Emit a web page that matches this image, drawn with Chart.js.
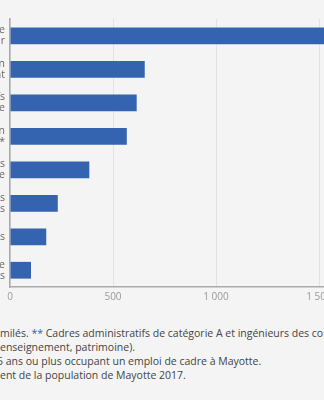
<!DOCTYPE html>
<html lang="fr">
<head>
<meta charset="utf-8">
<script src="https://cdn.jsdelivr.net/npm/chart.js@4/dist/chart.umd.min.js"></script>
<style>
    html, body {
        margin: 0;
        padding: 0;
        width: 324px;
        height: 400px;
        overflow: hidden;
        background: #f4f4f4;
        font-family: "Open Sans", sans-serif;
    }
    #chartBox {
        position: absolute;
        left: -190px;
        top: 0;
        width: 612px;
        height: 310px;
    }
    #notes {
        position: absolute;
        left: 0;
        top: 326px;
        width: 324px;
        font-size: 10.5px;
        line-height: 14px;
        color: #444;
    }
    .line {
        position: relative;
        white-space: nowrap;
    }
    .pre {
        position: absolute;
        right: 100%;
    }
    .star {
        color: #3563ae;
    }
</style>
</head>
<body>
<div id="chartBox"><canvas id="cadresChart"></canvas></div>
<div id="notes">
    <div class="line"><span class="pre">* Professions libérales et assi</span>milés. <span class="star">**</span> Cadres administratifs de catégorie A et ingénieurs des corps techniques de la fonction publique</div>
    <div class="line"><span class="pre">(santé, culture, </span>enseignement, patrimoine).</div>
    <div class="line" style="margin-left:-3px"><span class="pre">Champ : actifs de 1</span>5 ans ou plus occupant un emploi de cadre à Mayotte.</div>
    <div class="line"><span class="pre">Source : Insee, recensem</span>ent de la population de Mayotte 2017.</div>
</div>
<script>
// categories (labels cut by the left edge of the picture)
const categories = [
    ["Enseignants du secondaire", "et du supérieur"],
    ["Cadres de gestion", "et d'encadrement"],
    ["Cadres administratifs", "et commerciaux d'entreprise"],
    ["Cadres de la fonction", "publique **"],
    ["Ingénieurs et cadres techniques", "d'entreprise"],
    ["Chefs d'entreprises", "de 10 salariés ou plus"],
    "Professions libérales",
    ["Professions de la culture", "et des spectacles"]
];

// number of cadres
const values = [1650, 654, 615, 567, 385, 232, 176, 102];

const tickValues = [0, 500, 1000, 1500];
const axisMax = 2000;

const barColor = "#3464b0";

function formatNumber(v) {
    return String(v).replace(/\B(?=(\d{3})+(?!\d))/g, " ");
}

const ctx = document.getElementById("cadresChart").getContext("2d");

new Chart(ctx, {
    type: "bar",
    data: {
        labels: categories,
        datasets: [
            {
                data: values,
                backgroundColor: barColor,
                borderWidth: 0,
                barPercentage: 0.5,
                categoryPercentage: 1,
            },
        ],
    },
    options: {
        indexAxis: "y",
        responsive: true,
        maintainAspectRatio: false,
        animation: false,
        layout: {
            padding: { top: 19, right: 0, left: 0, bottom: 0 },
        },
        plugins: {
            legend: { display: false },
            tooltip: { enabled: false },
        },
        scales: {
            x: {
                min: 0,
                max: axisMax,
                afterBuildTicks: function (scale) {
                    scale.ticks = tickValues.map((v) => ({ value: v }));
                },
                afterFit: function (scale) {
                    scale.height = 23;
                },
                grid: {
                    color: "#e2e2e2",
                    lineWidth: 1,
                    drawTicks: false,
                },
                border: {
                    color: "#aaaaaa",
                    width: 1.5,
                },
                ticks: {
                    padding: 4,
                    color: "#999999",
                    font: { family: "Open Sans", size: 10 },
                    callback: function (value) {
                        return formatNumber(value);
                    },
                },
            },
            y: {
                afterFit: function (scale) {
                    scale.width = 200;
                },
                grid: {
                    display: false,
                    drawTicks: false,
                },
                border: {
                    color: "#aaaaaa",
                    width: 1.5,
                },
                ticks: {
                    padding: 5,
                    color: "#666666",
                    font: { family: "Open Sans", size: 10.5, lineHeight: 1.05 },
                },
            },
        },
    },
});
</script>
</body>
</html>
